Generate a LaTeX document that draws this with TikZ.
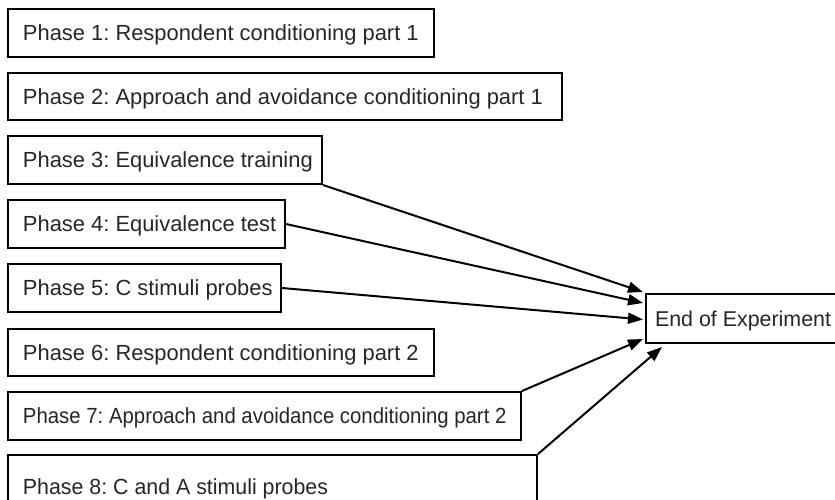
\documentclass[tikz,border=0pt]{standalone}
\usepackage{fontspec}
\setmainfont{Liberation Sans}
\usetikzlibrary{arrows.meta}
\newcommand{\boxtext}[2]{\makebox[#1][l]{#2}}
\tikzset{
  phasebox/.style={draw=black, line width=2pt, anchor=north west,
    inner xsep=15pt, inner ysep=0pt, minimum height=48pt,
    text height=15.7pt, text depth=0pt, font=\fontsize{21.9}{26}\selectfont\frenchspacing, text=black!85},
  conn/.style={line width=2pt, -{Triangle[length=15pt,width=11pt]}}
}
\begin{document}
\begin{tikzpicture}[x=1pt,y=-1pt]
\useasboundingbox (0,0) rectangle (835,499);
\node[phasebox] (p1) at (7,8) {\boxtext{396pt}{Phase 1: Respondent conditioning part 1}};
\node[phasebox, minimum height=47pt] (p2) at (7,72) {\boxtext{524pt}{Phase 2: Approach and avoidance conditioning part 1}};
\node[phasebox] (p3) at (7,135) {\boxtext{284pt}{Phase 3: Equivalence training}};
\node[phasebox] (p4) at (7,199) {\boxtext{247pt}{Phase 4: Equivalence test}};
\node[phasebox] (p5) at (7,263) {\boxtext{243pt}{Phase 5: C stimuli probes}};
\node[phasebox, minimum height=47pt] (p6) at (7,328) {\boxtext{396pt}{Phase 6: Respondent conditioning part 2}};
\node[phasebox] (p7) at (7,391) {\boxtext{483pt}{\scalebox{0.93}[1]{Phase 7: Approach and avoidance conditioning part 2}}};
\node[phasebox, minimum height=64pt] (p8) at (7,454) {\boxtext{499pt}{\scalebox{0.975}[1]{Phase 8: C and A stimuli probes}}};
\node[phasebox, inner xsep=9pt, minimum height=49pt, font=\fontsize{21.4}{26}\selectfont] (end) at (645,293) {\boxtext{190pt}{End of Experiment}};
\draw[conn] (p3.south east) -- ([xshift=-2pt,yshift=1pt]end.north west);
\draw[conn] (p4.east) -- ([xshift=-2pt,yshift=-10pt]end.north west);
\draw[conn] (p5.east) -- ([xshift=-2pt,yshift=-1pt]end.west);
\draw[conn] (p7.north east) -- ([xshift=-2pt,yshift=5pt]end.south west);
\draw[conn] (p8.north east) -- ([xshift=17pt,yshift=-3pt]end.south west);
\end{tikzpicture}
\end{document}
